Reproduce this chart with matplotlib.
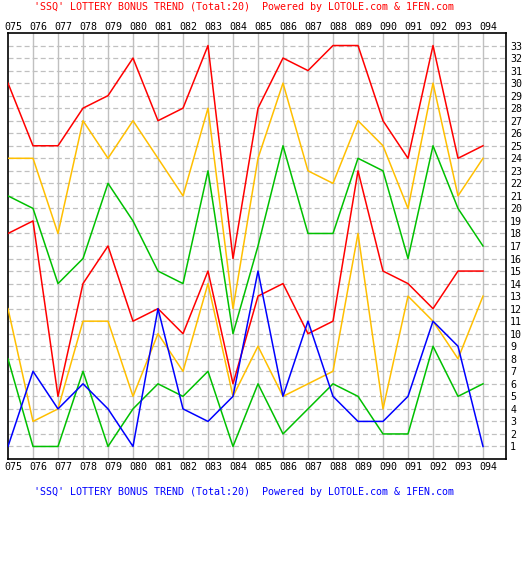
import matplotlib
matplotlib.use("Agg")
import matplotlib.pyplot as plt
import matplotlib.transforms as mtransforms

# draw numbers 075..094
draws = ["075", "076", "077", "078", "079", "080", "081", "082", "083", "084",
         "085", "086", "087", "088", "089", "090", "091", "092", "093", "094"]

# red balls sorted (1st .. 6th) and the blue ball
red1 = [8, 1, 1, 7, 1, 4, 6, 5, 7, 1, 6, 2, 4, 6, 5, 2, 2, 9, 5, 6]
red2 = [12, 3, 4, 11, 11, 5, 10, 7, 14, 5, 9, 5, 6, 7, 18, 4, 13, 11, 8, 13]
red3 = [18, 19, 5, 14, 17, 11, 12, 10, 15, 6, 13, 14, 10, 11, 23, 15, 14, 12, 15, 15]
red4 = [21, 20, 14, 16, 22, 19, 15, 14, 23, 10, 17, 25, 18, 18, 24, 23, 16, 25, 20, 17]
red5 = [24, 24, 18, 27, 24, 27, 24, 21, 28, 12, 24, 30, 23, 22, 27, 25, 20, 30, 21, 24]
red6 = [30, 25, 25, 28, 29, 32, 27, 28, 33, 16, 28, 32, 31, 33, 33, 27, 24, 33, 24, 25]
blue = [1, 7, 4, 6, 4, 1, 12, 4, 3, 5, 15, 5, 11, 5, 3, 3, 5, 11, 9, 1]

title = "'SSQ' LOTTERY BONUS TREND (Total:20)  Powered by LOTOLE.com & 1FEN.com"

plt.rcParams['font.family'] = ['DejaVu Sans Mono']
plt.rcParams['lines.scale_dashes'] = False
fs = 7.2

fig = plt.figure(figsize=(5.23, 5.65), dpi=100)
ax = fig.add_axes([8 / 523, 1 - 459 / 565, 498 / 523, 426 / 565])
x = list(range(len(draws)))

# grid
for i in x[1:]:
    ax.axvline(i, color='#c0c0c0', lw=1.0, zorder=1)
for v in range(1, 34):
    ax.axhline(v, color='#c0c0c0', lw=0.9, dashes=(3.6, 2.2), zorder=1)

series = [(red6, '#ff0000'), (red5, '#ffbf00'), (red4, '#00c000'),
          (red3, '#ff0000'), (red2, '#ffbf00'), (red1, '#00c000'),
          (blue, '#0000ff')]
for ys, c in series:
    ax.plot(x, ys, color=c, lw=1.1, zorder=3)

ax.set_xlim(0, 19.92)
ax.set_ylim(0, 34)
ax.set_xticks([])
ax.yaxis.tick_right()
ax.set_yticks(range(1, 34))
ax.tick_params(axis='y', length=0, pad=3, labelsize=fs)
for s in ax.spines.values():
    s.set_color('black')
    s.set_linewidth(1.2)

# draw labels above and below the plot
trans = mtransforms.blended_transform_factory(ax.transData, fig.transFigure)
off = mtransforms.ScaledTranslation(5.5 / 100, 0, fig.dpi_scale_trans)
for i, d in enumerate(draws):
    ax.text(i, 1 - 26.7 / 565, d, transform=trans + off, ha='center',
            va='center', fontsize=fs, clip_on=False)
    ax.text(i, 1 - 466.7 / 565, d, transform=trans + off, ha='center',
            va='center', fontsize=fs, clip_on=False)

fig.text(244 / 523, 1 - 7 / 565, title, color='#ff0000', ha='center',
         va='center', fontsize=fs)
fig.text(244 / 523, 1 - 492 / 565, title, color='#0000ff', ha='center',
         va='center', fontsize=fs)

fig.savefig("out.png", dpi=100, facecolor='white')
